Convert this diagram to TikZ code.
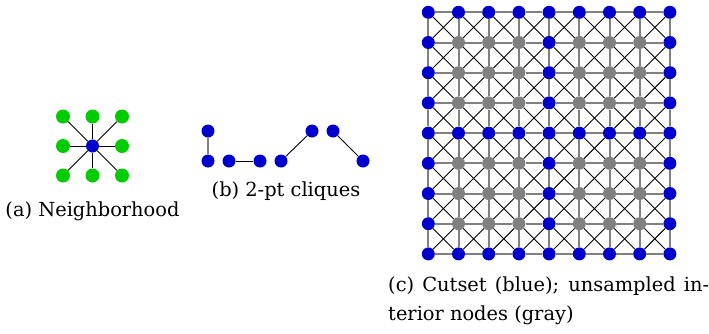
\documentclass[tikz,border=0pt]{standalone}
\usepackage{fontspec}
\setmainfont{DejaVu Serif}
\usetikzlibrary{positioning}
\definecolor{cutblue}{RGB}{0,0,204}
\definecolor{nbgreen}{RGB}{0,204,0}
\definecolor{intgray}{RGB}{128,128,128}
\tikzset{
  dot/.style={circle, inner sep=0pt, minimum size=13pt},
  cutset/.style={dot, fill=cutblue},
  interior/.style={dot, fill=intgray},
  nbr/.style={dot, fill=nbgreen, minimum size=14pt},
  axisedge/.style={draw=intgray, line width=2pt},
  diagedge/.style={draw=black, line width=0.9pt},
  caption/.style={font=\rmfamily\fontsize{19.4}{29}\selectfont, inner sep=0pt},
}

\begin{document}
\begin{tikzpicture}[x=1pt, y=-1pt, node distance=29.5pt and 29.5pt, on grid]
\useasboundingbox (0,0) rectangle (709,333);

% (a) neighborhood
\node[cutset] (ctr) at (92.5,146) {};
\node[nbr, above=of ctr] (n) {};
\node[nbr, below=of ctr] (s) {};
\node[nbr, left=of ctr] (w) {};
\node[nbr, right=of ctr] (e) {};
\node[nbr, above left=of ctr] (nw) {};
\node[nbr, above right=of ctr] (ne) {};
\node[nbr, below left=of ctr] (sw) {};
\node[nbr, below right=of ctr] (se) {};
\foreach \nb in {n,s,w,e,nw,ne,sw,se}
  \draw[diagedge] (ctr) -- (\nb);

% (b) 2-pt cliques
\node[cutset] (p1b) at (208,161) {};
\node[cutset, above=30pt of p1b] (p1a) {};
\node[cutset, right=21pt of p1b] (p2a) {};
\node[cutset, right=31pt of p2a] (p2b) {};
\node[cutset, right=21pt of p2b] (p3a) {};
\node[cutset, above right=30pt and 31pt of p3a] (p3b) {};
\node[cutset, right=21pt of p3b] (p4a) {};
\node[cutset, below right=30pt and 30pt of p4a] (p4b) {};
\draw[axisedge] (p1a) -- (p1b);
\draw[diagedge] (p2a) -- (p2b);
\draw[diagedge] (p3a) -- (p3b);
\draw[diagedge] (p4a) -- (p4b);

% (c) cutset grid
\foreach \i in {0,...,8}
  \foreach \j in {0,...,8}{
    \pgfmathtruncatemacro\isblue{or(mod(\i,4)==0, mod(\j,4)==0)}
    \ifnum\isblue=1 \def\ncol{cutset}\else\def\ncol{interior}\fi
    \node[\ncol] (g-\i-\j) at (428.3+30.2*\i, 12.3+30.2*\j) {};
  }
\foreach \i in {0,...,8}
  \foreach \j [count=\k from 1] in {0,...,7}{
    \draw[axisedge] (g-\j-\i) -- (g-\k-\i);
    \draw[axisedge] (g-\i-\j) -- (g-\i-\k);
  }
\foreach \i [count=\ii from 1] in {0,...,7}
  \foreach \j [count=\jj from 1] in {0,...,7}{
    \draw[diagedge] (g-\i-\j) -- (g-\ii-\jj);
    \draw[diagedge] (g-\ii-\j) -- (g-\i-\jj);
  }

% captions
\node[caption, anchor=base] (capa) at (92.5,216.5) {(a) Neighborhood};
\node[caption, anchor=base] (capb) at (286,196) {(b) 2-pt cliques};
\node[caption, text width=321pt, align=justify, anchor=north west] (capc) at (388,277)
  {(c) Cutset (blue); unsampled in-\linebreak terior nodes (gray)};

\end{tikzpicture}
\end{document}
